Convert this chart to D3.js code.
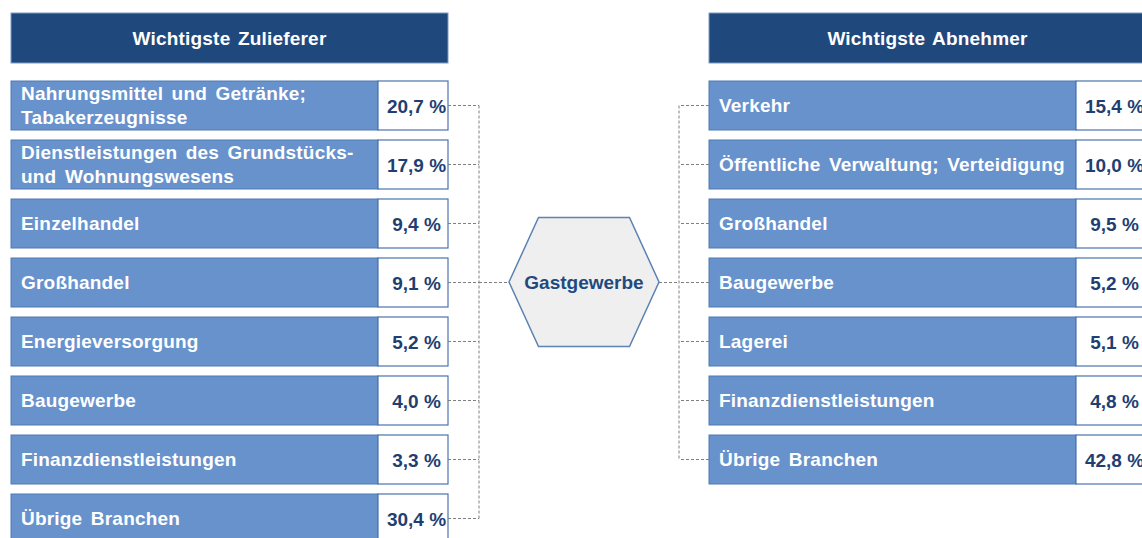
<!DOCTYPE html>
<html>
<head>
<meta charset="utf-8">
<script src="https://cdn.jsdelivr.net/npm/d3@7"></script>
<style>
  body { margin: 0; background: #fff; }
  text { font-family: "Liberation Sans", Arial, sans-serif; font-weight: bold; }
</style>
</head>
<body>
<script>
const width = 1142,
      height = 538;

// data
const centerName = "Gastgewerbe";
const supplierTitle = "Wichtigste Zulieferer";
const buyerTitle = "Wichtigste Abnehmer";
const supplierNames = ["Nahrungsmittel und Getränke;\nTabakerzeugnisse", "Dienstleistungen des Grundstücks-\nund Wohnungswesens",
    "Einzelhandel", "Großhandel", "Energieversorgung", "Baugewerbe", "Finanzdienstleistungen", "Übrige Branchen"];
const supplierShares = [20.7, 17.9, 9.4, 9.1, 5.2, 4.0, 3.3, 30.4];
const buyerNames = ["Verkehr", "Öffentliche Verwaltung; Verteidigung", "Großhandel", "Baugewerbe",
    "Lagerei", "Finanzdienstleistungen", "Übrige Branchen"];
const buyerShares = [15.4, 10.0, 9.5, 5.2, 5.1, 4.8, 42.8];

const rowTop = 81, rowStep = 59, rowH = 49,
      panelW = 437, boxW = 70;

let svg = d3.select("body")
    .append("svg")
    .attr("width", width)
    .attr("height", height);

// row position: index -> top
let y = d3.scaleLinear().domain([0, 1]).range([rowTop, rowTop + rowStep]);
let fmt = function (v) { return d3.format(".1f")(v).replace(".", ",") + " %"; };

function drawPanel(x0, title, names, shares, linkX) {
    let g = svg.append("g");

    g.append("rect")
        .attr("x", x0).attr("y", 13)
        .attr("width", panelW).attr("height", 50)
        .attr("fill", "#1f497d")
        .attr("stroke", "#7f9cc4").attr("stroke-width", 1);

    g.append("text")
        .attr("x", x0 + panelW / 2).attr("y", 45)
        .attr("text-anchor", "middle")
        .attr("fill", "#fff")
        .style("font-size", "19px")
        .style("letter-spacing", "0.2px")
        .style("word-spacing", "2px")
        .text(title);

    let rows = g.selectAll(".row")
        .data(names.map(function (n, i) { return {name: n, share: shares[i], i: i}; }))
        .enter().append("g")
        .attr("class", "row")
        .attr("transform", function (d) { return "translate(" + x0 + "," + y(d.i) + ")"; });

    rows.append("rect")
        .attr("width", panelW - boxW).attr("height", rowH)
        .attr("fill", "#6792cc")
        .attr("stroke", "#4f7ab3").attr("stroke-width", 1);

    rows.append("rect")
        .attr("x", panelW - boxW).attr("width", boxW).attr("height", rowH)
        .attr("fill", "#fff")
        .attr("stroke", "#4a74ad").attr("stroke-width", 1.2);

    rows.each(function (d) {
        let lines = d.name.split("\n");
        let t = d3.select(this).append("text")
            .attr("fill", "#fff")
            .style("font-size", "19px")
            .style("letter-spacing", "0.2px")
            .style("word-spacing", "3px");
        lines.forEach(function (l, k) {
            t.append("tspan")
                .attr("x", 10)
                .attr("y", rowH / 2 + 6.5 + (k - (lines.length - 1) / 2) * 23.5)
                .text(l);
        });
    });

    rows.append("text")
        .attr("x", panelW - boxW + 38.5).attr("y", rowH / 2 + 7)
        .attr("text-anchor", "middle")
        .attr("fill", "#1f3f72")
        .style("font-size", "19px")
        .text(function (d) { return fmt(d.share); });

    // dashed connectors
    let edgeX = linkX > x0 ? x0 + panelW : x0;
    let conn = svg.append("g")
        .attr("fill", "none")
        .attr("stroke", "#7f7f7f")
        .attr("stroke-width", 1)
        .attr("stroke-dasharray", "3,2");

    conn.selectAll("line")
        .data(names.map(function (n, i) { return i; }))
        .enter().append("line")
        .attr("x1", edgeX).attr("x2", linkX)
        .attr("y1", function (i) { return y(i) + rowH / 2; })
        .attr("y2", function (i) { return y(i) + rowH / 2; });

    conn.append("line")
        .attr("x1", linkX).attr("x2", linkX)
        .attr("y1", y(0) + rowH / 2)
        .attr("y2", y(names.length - 1) + rowH / 2);

    return conn;
}

let leftConn = drawPanel(11, supplierTitle, supplierNames, supplierShares, 479);
let rightConn = drawPanel(709, buyerTitle, buyerNames, buyerShares, 679);

// hexagon in the middle
const hx = 584, hy = 282, hr = 75, hh = 64.5, hs = 45.5;
let cy = y(3) + rowH / 2;

leftConn.append("line")
    .attr("x1", 479).attr("x2", hx - hr)
    .attr("y1", cy).attr("y2", cy);
rightConn.append("line")
    .attr("x1", hx + hr).attr("x2", 679)
    .attr("y1", cy).attr("y2", cy);

let hex = [[hx - hr, hy], [hx - hs, hy - hh], [hx + hs, hy - hh], [hx + hr, hy], [hx + hs, hy + hh], [hx - hs, hy + hh]];
svg.append("path")
    .attr("d", d3.line()(hex) + "Z")
    .attr("fill", "#efefef")
    .attr("stroke", "#5b82b2")
    .attr("stroke-width", 1.5);

svg.append("text")
    .attr("x", hx).attr("y", hy + 7)
    .attr("text-anchor", "middle")
    .attr("fill", "#1f4a7e")
    .style("font-size", "19px")
    .text(centerName);
</script>
</body>
</html>
